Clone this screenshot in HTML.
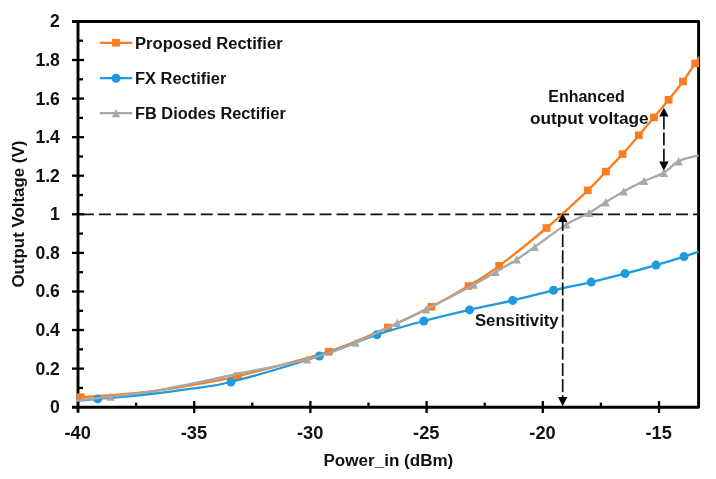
<!DOCTYPE html>
<html lang="en"><head><meta charset="utf-8"><title>Output Voltage vs Power_in</title>
<style>html,body{margin:0;padding:0;background:#fff}svg{display:block}text{font-family:"Liberation Sans",sans-serif;font-weight:bold;fill:#111}</style></head><body>
<svg width="716" height="479" viewBox="0 0 716 479">
<rect width="716" height="479" fill="#fff"/>
<g stroke="#000" stroke-width="2.9" fill="none" stroke-linecap="butt" stroke-linejoin="round">
<path d="M72 21.45 H698.6 V407.20 H72"/>
<path d="M78.0 21.45 V412.8"/>
</g>
<g stroke="#000" stroke-width="2.3" fill="none">
<path d="M78.0 387.9 H83"/>
<path d="M72 368.6 H84"/>
<path d="M78.0 349.3 H83"/>
<path d="M72 330.0 H84"/>
<path d="M78.0 310.8 H83"/>
<path d="M72 291.5 H84"/>
<path d="M78.0 272.2 H83"/>
<path d="M72 252.9 H84"/>
<path d="M78.0 233.6 H83"/>
<path d="M72 214.3 H84"/>
<path d="M78.0 195.0 H83"/>
<path d="M72 175.7 H84"/>
<path d="M78.0 156.5 H83"/>
<path d="M72 137.2 H84"/>
<path d="M78.0 117.9 H83"/>
<path d="M72 98.6 H84"/>
<path d="M78.0 79.3 H83"/>
<path d="M72 60.0 H84"/>
<path d="M78.0 40.7 H83"/>
<path d="M136.1 402.6 V407.2"/>
<path d="M194.2 401 V413"/>
<path d="M252.3 402.6 V407.2"/>
<path d="M310.4 401 V413"/>
<path d="M368.5 402.6 V407.2"/>
<path d="M426.6 401 V413"/>
<path d="M484.7 402.6 V407.2"/>
<path d="M542.8 401 V413"/>
<path d="M600.9 402.6 V407.2"/>
<path d="M659.0 401 V413"/>
</g>
<g font-size="17.6" text-anchor="end">
<text x="59.9" y="413.1">0</text>
<text x="59.9" y="374.5">0.2</text>
<text x="59.9" y="335.9">0.4</text>
<text x="59.9" y="297.4">0.6</text>
<text x="59.9" y="258.8">0.8</text>
<text x="59.9" y="220.2">1</text>
<text x="59.9" y="181.7">1.2</text>
<text x="59.9" y="143.1">1.4</text>
<text x="59.9" y="104.5">1.6</text>
<text x="59.9" y="65.9">1.8</text>
<text x="59.9" y="27.3">2</text>
</g>
<g font-size="17.6" text-anchor="middle">
<text x="77.7" y="438.5" textLength="26.4" lengthAdjust="spacingAndGlyphs">-40</text>
<text x="193.9" y="438.5" textLength="26.4" lengthAdjust="spacingAndGlyphs">-35</text>
<text x="310.1" y="438.5" textLength="26.4" lengthAdjust="spacingAndGlyphs">-30</text>
<text x="426.3" y="438.5" textLength="26.4" lengthAdjust="spacingAndGlyphs">-25</text>
<text x="542.5" y="438.5" textLength="26.4" lengthAdjust="spacingAndGlyphs">-20</text>
<text x="658.7" y="438.5" textLength="26.4" lengthAdjust="spacingAndGlyphs">-15</text>
</g>
<defs><clipPath id="c"><rect x="76.4" y="21.4" width="622.8" height="387.8"/></clipPath></defs>
<path d="M81.9 214.3 H697.2" stroke="#111" stroke-width="1.8" stroke-dasharray="12 4.973" fill="none"/>
<g clip-path="url(#c)">
<path d="M80.6 397.1 C85.7 396.8 99.4 396.1 111.2 395.2 C123.0 394.3 138.0 393.2 151.4 391.5 C164.8 389.8 177.2 387.8 191.6 385.2 C206.0 382.6 215.0 381.7 237.9 376.1 C260.8 370.5 303.7 359.8 328.7 351.7 C353.7 343.6 370.8 335.0 387.9 327.5 C405.0 320.0 418.0 313.7 431.4 306.8 C444.8 299.9 457.2 292.8 468.5 286.0 C479.8 279.2 486.2 275.5 499.2 265.8 C512.2 256.1 531.7 240.6 546.5 228.0 C561.3 215.4 577.9 199.7 587.8 190.3 C597.7 180.9 600.1 177.6 605.9 171.6 C611.7 165.6 617.0 160.1 622.5 154.1 C628.0 148.1 633.6 141.4 638.8 135.3 C644.1 129.2 649.0 123.3 654.0 117.4 C659.0 111.5 663.8 105.8 668.6 99.8 C673.4 93.8 678.6 87.6 683.0 81.5 C687.4 75.4 691.1 69.5 695.2 63.4 C699.3 57.3 705.5 48.1 707.5 45.0" stroke="#FA7D1E" stroke-width="2.3" fill="none" stroke-linejoin="round"/>
<rect x="76.7" y="393.3" width="7.8" height="7.6" fill="#FA7D1E"/>
<rect x="234.0" y="372.3" width="7.8" height="7.6" fill="#FA7D1E"/>
<rect x="324.8" y="347.9" width="7.8" height="7.6" fill="#FA7D1E"/>
<rect x="384.0" y="323.7" width="7.8" height="7.6" fill="#FA7D1E"/>
<rect x="427.5" y="303.0" width="7.8" height="7.6" fill="#FA7D1E"/>
<rect x="464.6" y="282.2" width="7.8" height="7.6" fill="#FA7D1E"/>
<rect x="495.3" y="262.0" width="7.8" height="7.6" fill="#FA7D1E"/>
<rect x="542.6" y="224.2" width="7.8" height="7.6" fill="#FA7D1E"/>
<rect x="583.9" y="186.5" width="7.8" height="7.6" fill="#FA7D1E"/>
<rect x="602.0" y="167.8" width="7.8" height="7.6" fill="#FA7D1E"/>
<rect x="618.6" y="150.3" width="7.8" height="7.6" fill="#FA7D1E"/>
<rect x="634.9" y="131.5" width="7.8" height="7.6" fill="#FA7D1E"/>
<rect x="650.1" y="113.6" width="7.8" height="7.6" fill="#FA7D1E"/>
<rect x="664.7" y="96.0" width="7.8" height="7.6" fill="#FA7D1E"/>
<rect x="679.1" y="77.7" width="7.8" height="7.6" fill="#FA7D1E"/>
<rect x="691.3" y="59.6" width="7.8" height="7.6" fill="#FA7D1E"/>
</g>
<g clip-path="url(#c)">
<path d="M76.0 400.9 C79.6 400.6 85.1 400.0 97.7 398.9 C110.3 397.8 135.8 395.7 151.4 394.0 C167.1 392.3 178.3 390.7 191.6 388.7 C204.9 386.7 209.7 387.4 231.0 382.0 C252.3 376.6 295.1 363.9 319.4 356.0 C343.7 348.1 359.5 340.5 376.9 334.7 C394.3 328.9 408.4 325.1 423.8 321.0 C439.2 316.9 454.8 313.3 469.6 309.9 C484.4 306.5 498.7 303.7 512.7 300.4 C526.7 297.1 540.4 293.4 553.5 290.3 C566.6 287.2 579.3 284.9 591.2 282.1 C603.1 279.3 614.2 276.4 625.0 273.6 C635.8 270.8 646.2 267.9 656.0 265.1 C665.8 262.3 676.9 258.9 684.0 256.6 C691.1 254.4 696.2 252.4 698.6 251.6" stroke="#1E9ADF" stroke-width="2.3" fill="none" stroke-linejoin="round"/>
<circle cx="97.7" cy="398.9" r="4.5" fill="#1E9ADF"/>
<circle cx="231.0" cy="382.0" r="4.5" fill="#1E9ADF"/>
<circle cx="319.4" cy="356.0" r="4.5" fill="#1E9ADF"/>
<circle cx="376.9" cy="334.7" r="4.5" fill="#1E9ADF"/>
<circle cx="423.8" cy="321.0" r="4.5" fill="#1E9ADF"/>
<circle cx="469.6" cy="309.9" r="4.5" fill="#1E9ADF"/>
<circle cx="512.7" cy="300.4" r="4.5" fill="#1E9ADF"/>
<circle cx="553.5" cy="290.3" r="4.5" fill="#1E9ADF"/>
<circle cx="591.2" cy="282.1" r="4.5" fill="#1E9ADF"/>
<circle cx="625.0" cy="273.6" r="4.5" fill="#1E9ADF"/>
<circle cx="656.0" cy="265.1" r="4.5" fill="#1E9ADF"/>
<circle cx="684.0" cy="256.6" r="4.5" fill="#1E9ADF"/>
</g>
<g clip-path="url(#c)">
<path d="M76.0 400.7 C81.8 400.0 97.9 398.1 110.5 396.6 C123.1 395.1 137.9 393.7 151.4 391.5 C164.9 389.3 177.3 386.5 191.6 383.6 C205.8 380.7 217.6 377.9 236.9 373.9 C256.2 369.9 287.6 364.6 307.3 359.4 C327.1 354.2 340.4 348.8 355.4 342.7 C370.4 336.6 385.4 328.6 397.2 323.0 C409.0 317.4 413.3 315.8 426.1 309.4 C438.9 303.0 462.2 290.9 473.8 284.7 C485.4 278.4 488.5 276.1 495.7 271.9 C502.9 267.7 510.3 263.7 516.8 259.5 C523.3 255.3 526.4 252.8 534.7 246.9 C543.0 241.1 557.4 230.1 566.4 224.4 C575.4 218.7 582.5 216.6 589.0 212.9 C595.5 209.2 599.8 205.9 605.6 202.3 C611.4 198.7 617.3 195.1 623.7 191.5 C630.1 187.9 637.5 184.0 644.2 180.9 C650.9 177.8 658.1 176.1 663.8 172.8 C669.5 169.5 672.8 164.2 678.6 161.3 C684.4 158.4 695.3 156.4 698.6 155.4" stroke="#A8A8A8" stroke-width="2.3" fill="none" stroke-linejoin="round"/>
<path d="M110.5 392.4 L114.6 400.7 L106.4 400.7 Z" fill="#A8A8A8"/>
<path d="M307.3 355.2 L311.4 363.5 L303.2 363.5 Z" fill="#A8A8A8"/>
<path d="M355.4 338.5 L359.5 346.8 L351.3 346.8 Z" fill="#A8A8A8"/>
<path d="M397.2 318.8 L401.3 327.1 L393.1 327.1 Z" fill="#A8A8A8"/>
<path d="M426.1 305.2 L430.2 313.5 L422.0 313.5 Z" fill="#A8A8A8"/>
<path d="M473.8 280.5 L477.9 288.8 L469.7 288.8 Z" fill="#A8A8A8"/>
<path d="M495.7 267.7 L499.8 276.0 L491.6 276.0 Z" fill="#A8A8A8"/>
<path d="M516.8 255.3 L520.9 263.6 L512.7 263.6 Z" fill="#A8A8A8"/>
<path d="M534.7 242.7 L538.8 251.0 L530.6 251.0 Z" fill="#A8A8A8"/>
<path d="M566.4 220.2 L570.5 228.5 L562.3 228.5 Z" fill="#A8A8A8"/>
<path d="M589.0 208.7 L593.1 217.0 L584.9 217.0 Z" fill="#A8A8A8"/>
<path d="M605.6 198.1 L609.7 206.4 L601.5 206.4 Z" fill="#A8A8A8"/>
<path d="M623.7 187.3 L627.8 195.6 L619.6 195.6 Z" fill="#A8A8A8"/>
<path d="M644.2 176.7 L648.3 185.0 L640.1 185.0 Z" fill="#A8A8A8"/>
<path d="M663.8 168.6 L667.9 176.9 L659.7 176.9 Z" fill="#A8A8A8"/>
<path d="M678.6 157.1 L682.7 165.4 L674.5 165.4 Z" fill="#A8A8A8"/>
</g>
<path d="M562.7 218.1 V400.3" stroke="#111" stroke-width="1.7" stroke-dasharray="12.9 3.2" fill="none"/>
<path d="M562.7 213.3 l4.7 8.6 h-9.4 Z" fill="#000"/>
<path d="M562.7 406.3 l4.7 -9.2 h-9.4 Z" fill="#000"/>
<path d="M663.9 116.5 V164.6" stroke="#111" stroke-width="1.7" stroke-dasharray="12.9 3.2" fill="none"/>
<path d="M663.9 107.8 l4.7 8.6 h-9.4 Z" fill="#000"/>
<path d="M663.9 170.6 l4.7 -9.2 h-9.4 Z" fill="#000"/>
<path d="M99.8 42.8 H132.3" stroke="#FA7D1E" stroke-width="2.3"/>
<rect x="112.1" y="39.0" width="7.8" height="7.6" fill="#FA7D1E"/>
<text x="135.0" y="48.8" font-size="17.2" textLength="147.6" lengthAdjust="spacingAndGlyphs">Proposed Rectifier</text>
<path d="M99.8 78.2 H132.3" stroke="#1E9ADF" stroke-width="2.3"/>
<circle cx="116.0" cy="78.2" r="4.5" fill="#1E9ADF"/>
<text x="135.0" y="84.2" font-size="17.2" textLength="91.3" lengthAdjust="spacingAndGlyphs">FX Rectifier</text>
<path d="M99.8 113.2 H132.3" stroke="#A8A8A8" stroke-width="2.3"/>
<path d="M116.0 109.0 L120.1 117.3 L111.9 117.3 Z" fill="#A8A8A8"/>
<text x="135.0" y="119.2" font-size="17.2" textLength="150.8" lengthAdjust="spacingAndGlyphs">FB Diodes Rectifier</text>
<text x="548.2" y="101.9" font-size="17.2" textLength="76.6" lengthAdjust="spacingAndGlyphs">Enhanced</text>
<text x="529.9" y="124" font-size="17.2" textLength="118.8" lengthAdjust="spacingAndGlyphs">output voltage</text>
<text x="474.9" y="325.8" font-size="17.2" textLength="83.8" lengthAdjust="spacingAndGlyphs">Sensitivity</text>
<text x="323.5" y="465.8" font-size="17.2" textLength="129.8" lengthAdjust="spacingAndGlyphs">Power_in (dBm)</text>
<text transform="translate(24.4 287.5) rotate(-90)" font-size="17.2" textLength="146.8" lengthAdjust="spacingAndGlyphs">Output Voltage (V)</text>
</svg></body></html>
